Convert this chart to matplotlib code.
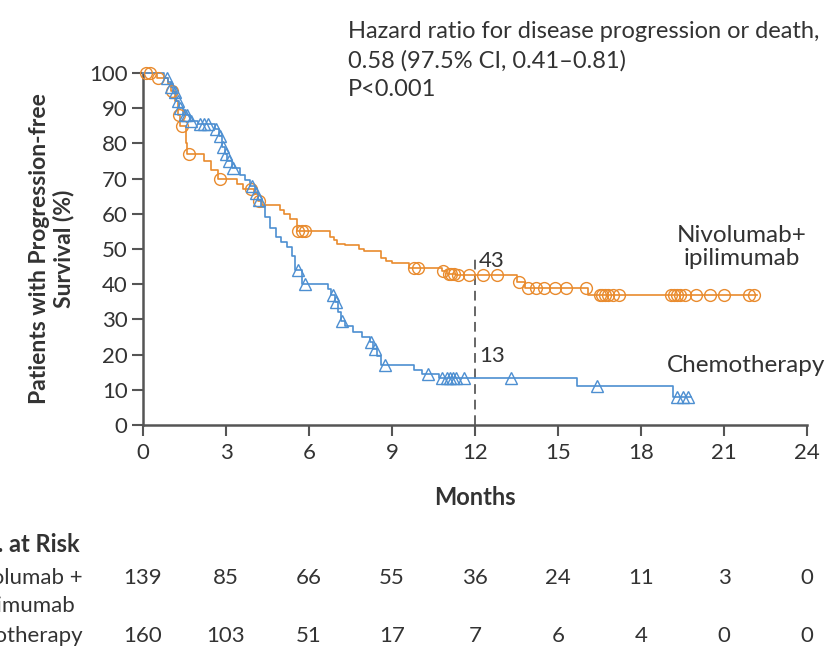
import numpy as np
import matplotlib
matplotlib.use("Agg")
import matplotlib.pyplot as plt

plt.rcParams['font.family'] = ['Lato', 'DejaVu Sans']

# Nivolumab + ipilimumab: step times (months) and survival (%) after each step
nivo_t = [0, 0.5, 0.9, 1.0, 1.15, 1.25, 1.35, 1.55, 1.6, 2.2, 2.45, 2.7, 3.4, 3.6,
          4.0, 4.15, 4.3, 4.95, 5.1, 5.3, 5.55, 6.75, 6.9, 7.0, 7.3, 7.8, 8.0, 8.6,
          8.8, 9.0, 9.6, 10.8, 11.0, 11.3, 13.5, 13.8, 16.1, 22.2]
nivo_s = [100, 98.5, 97, 95, 92, 88, 85, 80, 77, 75, 72.5, 70, 68.5, 67,
          65.5, 63.5, 62.5, 61, 60, 58.5, 55, 53.5, 52.5, 51.5, 51, 50, 49.5, 47.5,
          46.5, 46, 44.5, 43.7, 43.0, 42.5, 40.5, 39, 37, 37]
nivo_cens = [0.1, 0.25, 0.55, 1.05, 1.3, 1.4, 1.65, 2.8, 3.9, 4.2, 5.6, 5.75, 5.85,
             9.8, 9.95, 10.85, 11.05, 11.15, 11.25, 11.4, 11.8, 12.3, 12.8, 13.6,
             13.9, 14.2, 14.5, 14.9, 15.3, 16.0, 16.5, 16.6, 16.7, 16.8, 17.0, 17.2,
             19.1, 19.2, 19.3, 19.4, 19.6, 20.0, 20.5, 21.0, 21.9, 22.1]

# Chemotherapy
chemo_t = [0, 0.75, 0.9, 1.0, 1.1, 1.2, 1.3, 1.45, 1.7, 2.0, 2.6, 2.75, 2.85, 2.95,
           3.05, 3.2, 3.5, 3.7, 3.85, 4.05, 4.15, 4.25, 4.4, 4.6, 4.8, 5.0, 5.2,
           5.4, 5.5, 5.75, 6.7, 6.8, 6.95, 7.05, 7.15, 7.3, 7.6, 7.9, 8.2, 8.33,
           8.45, 8.6, 9.8, 10.1, 10.7, 15.7, 19.15, 19.8]
chemo_s = [100, 98.5, 97.5, 96, 94.5, 92, 90, 88, 86.5, 85.5, 84, 82, 79, 77,
           75, 73, 71, 69.5, 68, 66, 64, 62, 59, 56, 53.5, 52, 50.5,
           48, 44, 40, 38.5, 37, 35, 32, 29.5, 28, 26.5, 25, 23.5, 21.5,
           19.5, 17, 15.5, 14.5, 13.3, 11, 8, 8]
chemo_cens = [0.85, 1.0, 1.15, 1.25, 1.35, 1.5, 1.6, 1.75, 2.05, 2.2, 2.35, 2.65,
              2.8, 2.9, 3.0, 3.1, 3.25, 3.95, 4.1, 4.2, 5.6, 5.85, 6.85, 6.97, 7.2,
              8.25, 8.38, 8.75, 10.3, 10.8, 11.0, 11.1, 11.2, 11.3, 11.6, 13.3, 16.4,
              19.3, 19.5, 19.7]

months = [0, 3, 6, 9, 12, 15, 18, 21, 24]
risk_nivo = [139, 85, 66, 55, 36, 24, 11, 3, 0]
risk_chemo = [160, 103, 51, 17, 7, 6, 4, 0, 0]

orange = '#E98B2E'
blue = '#4D8FD1'
grey = '#555555'
txt = '#333333'

W, H = 835, 651
fig = plt.figure(figsize=(W / 100, H / 100), dpi=100)
ax = fig.add_axes([143 / W, 1 - 425 / H, (807 - 143) / W, (425 - 73) / H])


def level(ts, ss, c):
    i = np.searchsorted(ts, c, side='right') - 1
    return ss[i]


for ts, ss, cens, col, mk in [(nivo_t, nivo_s, nivo_cens, orange, 'o'),
                              (chemo_t, chemo_s, chemo_cens, blue, '^')]:
    ax.step(ts, ss, where='post', color=col, lw=1.2, clip_on=False, zorder=3)
    cy = [level(np.array(ts), np.array(ss), c) for c in cens]
    ax.plot(cens, cy, ls='none', marker=mk, ms=8.5, mfc='none', mec=col,
            mew=1.0, clip_on=False, zorder=4)

ax.plot([12, 12], [0, 47.5], ls=(0, (5, 3)), color='#666666', lw=1.4, zorder=2)
ax.text(12.15, 46.5, '43', fontsize=16, color=txt, va='center', ha='left')
ax.text(12.15, 19.5, '13', fontsize=16, color=txt, va='center', ha='left')
ax.text(21.65, 50.5, 'Nivolumab+\nipilimumab', fontsize=17.5, color=txt,
        ha='center', va='center', linespacing=1.1, multialignment='center')
ax.text(18.95, 17, 'Chemotherapy', fontsize=17.5, color=txt, ha='left', va='center')

ax.set_xlim(0, 24)
ax.set_ylim(0, 100)
ax.set_xticks(months)
ax.set_yticks(range(0, 101, 10))
for sp in ['top', 'right']:
    ax.spines[sp].set_visible(False)
for sp in ['left', 'bottom']:
    ax.spines[sp].set_color(grey)
    ax.spines[sp].set_linewidth(1.8)
ax.tick_params(axis='both', direction='out', length=8, width=1.5, color=grey,
               labelsize=16, labelcolor=txt, pad=3)
ax.tick_params(axis='x', pad=5)
ax.set_xlabel('Months', fontsize=17, fontweight='bold', color=txt)
ax.xaxis.set_label_coords(0.5, -(486 - 425) / 352)
ax.set_ylabel('Patients with Progression-free\nSurvival (%)', fontsize=16.5,
              fontweight='bold', color=txt, linespacing=1.15)
ax.yaxis.set_label_coords(-(143 - 74) / 664, 0.5)

fig.text(348 / W, 1 - 21 / H,
         'Hazard ratio for disease progression or death,\n0.58 (97.5% CI, 0.41\u20130.81)\nP<0.001',
         fontsize=17, color=txt, ha='left', va='top', linespacing=1.45)

# number at risk table (left part cropped in the reference)
fig.text(80 / W, 1 - 545 / H, 'No. at Risk', fontsize=17, fontweight='bold',
         color=txt, ha='right', va='center')
fig.text(83 / W, 1 - 578 / H, 'Nivolumab +', fontsize=16, color=txt,
         ha='right', va='center')
fig.text(76 / W, 1 - 606 / H, 'ipilimumab', fontsize=16, color=txt,
         ha='right', va='center')
fig.text(83 / W, 1 - 636 / H, 'Chemotherapy', fontsize=16, color=txt,
         ha='right', va='center')
for m, a, b in zip(months, risk_nivo, risk_chemo):
    xf = ax.transData.transform((m, 0))[0] / W
    fig.text(xf, 1 - 578 / H, str(a), fontsize=16, color=txt, ha='center', va='center')
    fig.text(xf, 1 - 636 / H, str(b), fontsize=16, color=txt, ha='center', va='center')

fig.savefig('out.png', dpi=100)
